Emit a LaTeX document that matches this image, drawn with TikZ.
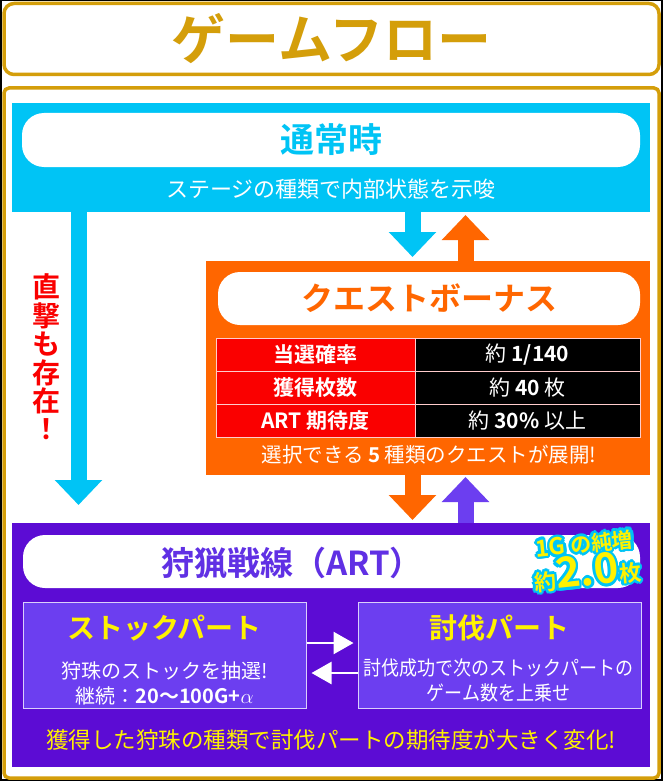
\documentclass[tikz,border=0pt]{standalone}
\usepackage{fontspec}
\setmainfont{Noto Sans CJK JP}[BoldFont={Noto Sans CJK JP Bold}]
\usetikzlibrary{positioning,arrows.meta,calc}

\definecolor{gold}{RGB}{212,158,10}
\definecolor{sky}{RGB}{0,196,245}
\definecolor{flame}{RGB}{255,102,0}
\definecolor{cellred}{RGB}{250,0,0}
\definecolor{violet}{RGB}{92,12,212}
\definecolor{lilac}{RGB}{108,62,240}
\definecolor{artink}{RGB}{96,48,228}
\definecolor{lemon}{RGB}{255,242,0}

\newcommand{\fsz}[1]{\fontsize{#1}{#1}\selectfont}
\newcommand{\badgetext}{{\fsz{23}1G} {\fsz{21}の純増}\\{\fsz{22}約}{\fsz{42}2.0}{\fsz{22}枚}}

\begin{document}
\begin{tikzpicture}[x=1pt,y=-1pt,
  frame/.style={draw=gold, line width=3.5pt, fill=white, inner sep=0pt},
  panel/.style={inner sep=0pt, outer sep=0pt},
  head/.style={fill=white, rounded corners=22pt, inner sep=0pt},
  note/.style={inner sep=0pt, text=white, font=\fsz{22}},
  cellL/.style={fill=cellred, draw=white!80!red, line width=0.8pt, minimum width=199pt,
    minimum height=33pt, text=white, font=\bfseries\fsz{21}},
  cellR/.style={fill=black, draw=white!80!red, line width=0.8pt, minimum width=225pt,
    minimum height=33pt, text=white, font=\fsz{21}},
  part/.style={fill=lilac, draw=white!75!lilac, line width=1pt, minimum width=283pt,
    minimum height=106pt, inner sep=0pt},
  parttitle/.style={inner sep=0pt, text=lemon, font=\bfseries\fsz{28}},
  partnote/.style={inner sep=0pt, text=white, align=center, font=\fontsize{20}{25}\selectfont},
  block/.style={draw=#1, line width=16pt, -{Triangle[length=25pt,width=46pt]}},
  flat/.style={draw=white, line width=2.5pt, -{Triangle[length=20pt,width=22pt]}},
  badge/.style={inner sep=0pt, align=center, rotate=6, font=\bfseries\fontsize{22}{28}\selectfont},
]
\fill[black] (0,0) rectangle (663,781);
\fill[white] (2,1) rectangle (661,779);
\useasboundingbox (0,0) rectangle (663,781);

% title and outer frame
\node[frame, minimum width=655pt, minimum height=71pt, rounded corners=10pt,
  text=gold, font=\bfseries\fsz{54}] (title) at (331.5,39) {ゲームフロー};
\node[frame, minimum width=655pt, minimum height=690pt, rounded corners=5pt] (main) at (331.5,433) {};

% normal state
\node[panel, fill=sky, minimum width=638pt, minimum height=109pt] (normal) at (331,157.5) {};
\node[head, minimum width=618pt, minimum height=54pt, text=sky, font=\bfseries\fsz{34}] (normalhead) at (331,140) {通常時};
\node[note] (normalnote) at (331,189) {ステージの種類で内部状態を示唆};

% quest bonus
\node[panel, fill=flame, minimum width=444pt, minimum height=214pt] (quest) at (428,368) {};
\node[head, minimum width=422pt, minimum height=53pt, text=flame, font=\bfseries\fsz{32}] (questhead) at (429,298.5) {クエストボーナス};
\foreach \y/\lbl/\val [count=\i] in {354.5/当選確率/{約 \textbf{1/140}},
    387.5/獲得枚数/{約 \textbf{40} 枚}, 420.5/{ART 期待度}/{約 \textbf{30\%} 以上}} {
  \node[cellL] (key\i) at (315.5,\y) {\lbl};
  \node[cellR] (val\i) at (527.5,\y) {\val};
}
\node[note, font=\fsz{20.5}] (questnote) at (429,455) {選択できる \textbf{5} 種類のクエストが展開!};

% ART
\node[panel, fill=violet, minimum width=638pt, minimum height=244pt] (art) at (331,645) {};
\node[head, minimum width=617pt, minimum height=53pt] (arthead) at (331.5,561.5) {};
\node[inner sep=0pt, text=artink, font=\bfseries\fsz{33}] (arttitle) at (292,563) {狩猟戦線（ART）};

\node[part] (stock) at (164.5,655) {};
\node[part, right=51pt of stock] (hunt) {};
\node[parttitle] (stocktitle) at (164.5,628) {ストックパート};
\node[parttitle] (hunttitle) at (hunt |- stocktitle) {討伐パート};
\node[partnote] (stocknote) at (164.5,683) {狩珠のストックを抽選!\\継続：\textbf{20〜100G+}$\alpha$};
\node[partnote, xscale=0.9] (huntnote) at (498.5,680) {討伐成功で次のストックパートの\\ゲーム数を上乗せ};
\node[inner sep=0pt, text=lemon, font=\fsz{22.5}] (artnote) at (331,740) {獲得した狩珠の種類で討伐パートの期待度が大きく変化!};

% badge
\coordinate (bdg) at (586,561);
\foreach \a in {0,30,...,330}
  \node[badge, text=sky] (halo\a) at ($(bdg)+(\a:2.6)$) {\badgetext};
\node[badge, text=lemon] (badge) at (bdg) {\badgetext};

% direct hit
\node[inner sep=0pt, align=center, text=cellred, font=\bfseries\fontsize{28}{28.4}\selectfont] (direct) at (46,357) {直\\撃\\も\\存\\在\\！};

% connectors
\coordinate (xa) at (412.5,0);
\coordinate (xb) at (465.5,0);
\coordinate (xl) at (78.5,0);
\coordinate (ya) at (0,643);
\coordinate (yb) at (0,673);
\draw[block=sky, shorten >=4pt] (normal.south -| xa) -- (quest.north -| xa);
\draw[block=flame, shorten >=3pt] (quest.north -| xb) -- (normal.south -| xb);
\draw[block=flame, shorten >=3pt] (quest.south -| xa) -- (art.north -| xa);
\draw[block=lilac, shorten >=2pt] (art.north -| xb) -- (quest.south -| xb);
\draw[block=sky, shorten >=18pt] (normal.south -| xl) -- (art.north -| xl);
\draw[flat, shorten >=4pt] (stock.east |- ya) -- (hunt.west |- ya);
\draw[flat, shorten >=5pt] (hunt.west |- yb) -- (stock.east |- yb);
\end{tikzpicture}
\end{document}
